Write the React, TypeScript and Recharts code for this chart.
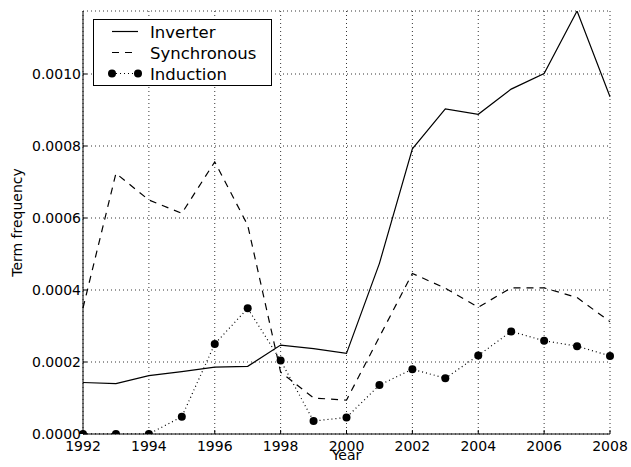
import { LineChart, Line, XAxis, YAxis, CartesianGrid, Legend } from 'recharts';

// term frequency per year
const YEARS = [1992, 1993, 1994, 1995, 1996, 1997, 1998, 1999, 2000, 2001, 2002, 2003, 2004, 2005, 2006, 2007, 2008];
const INVERTER = [0.000143, 0.00014, 0.000162, 0.000173, 0.000186, 0.000188, 0.000247, 0.000237, 0.000224, 0.000474, 0.000792, 0.000903, 0.000888, 0.000958, 0.001001, 0.001175, 0.000937];
const SYNCHRONOUS = [0.00035, 0.000724, 0.00065, 0.000613, 0.000756, 0.00058, 0.000172, 0.0001, 0.000094, 0.00027, 0.000446, 0.000405, 0.000352, 0.000406, 0.000406, 0.000379, 0.000312];
const INDUCTION = [0, 0, 0, 0.000048, 0.00025, 0.000349, 0.000204, 0.000036, 0.000046, 0.000136, 0.00018, 0.000155, 0.000218, 0.000285, 0.000259, 0.000244, 0.000217];

const X_TICKS = [1992, 1994, 1996, 1998, 2000, 2002, 2004, 2006, 2008];
const Y_TICKS = [0, 0.0002, 0.0004, 0.0006, 0.0008, 0.001];
const Y_MAX = 0.001175;

const FONT = '"DejaVu Sans", sans-serif';
const DASH = '7 6';
const DOTTED = '1 3';

const data = YEARS.map((year, i) => ({
  year,
  inverter: INVERTER[i],
  synchronous: SYNCHRONOUS[i],
  induction: INDUCTION[i],
}));

// matplotlib style: ticks point inward
const BottomTick = ({ x, y, payload }: any) => (
  <g>
    <line x1={x} x2={x} y1={y} y2={y - 4} stroke="#000" />
    <text x={x} y={y + 17} textAnchor="middle" fontFamily={FONT} fontSize={14} fill="#000">{payload.value}</text>
  </g>
);
const TopTick = ({ x, y }: any) => <line x1={x} x2={x} y1={y} y2={y + 4} stroke="#000" />;
const LeftTick = ({ x, y, payload }: any) => (
  <g>
    <line x1={x} x2={x + 4} y1={y} y2={y} stroke="#000" />
    <text x={x - 2} y={y + 5} textAnchor="end" fontFamily={FONT} fontSize={14} fill="#000">{payload.value.toFixed(4)}</text>
  </g>
);
const RightTick = ({ x, y }: any) => <line x1={x - 4} x2={x} y1={y} y2={y} stroke="#000" />;

const LEGEND_ROWS = [
  { name: 'Inverter', dash: undefined, dots: false },
  { name: 'Synchronous', dash: DASH, dots: false },
  { name: 'Induction', dash: DOTTED, dots: true },
];

const renderLegend = () => (
  <svg width={179} height={67} style={{ display: 'block' }}>
    <rect x={0.5} y={0.5} width={178} height={66} fill="#fff" stroke="#000" />
    {LEGEND_ROWS.map((r, i) => {
      const cy = 12.5 + i * 21;
      return (
        <g key={r.name}>
          <line x1={19} x2={45} y1={cy} y2={cy} stroke="#000" strokeWidth={1.2} strokeDasharray={r.dash} />
          {r.dots && <circle cx={19} cy={cy} r={4} fill="#000" />}
          {r.dots && <circle cx={45} cy={cy} r={4} fill="#000" />}
          <text x={57} y={cy + 6} fontFamily={FONT} fontSize={16.5} fill="#000">{r.name}</text>
        </g>
      );
    })}
  </svg>
);

export default function App() {
  return (
    <div style={{ position: 'absolute', left: 0, top: 0, background: '#fff' }}>
      <LineChart width={631} height={467} data={data} margin={{ top: 11, right: 21, bottom: 0, left: 0 }}>
        <CartesianGrid stroke="#000" strokeWidth={0.8} strokeDasharray={DOTTED} />
        <XAxis
          dataKey="year"
          type="number"
          domain={[1992, 2008]}
          ticks={X_TICKS}
          height={33}
          tickSize={0}
          tickMargin={0}
          axisLine={{ stroke: '#000' }}
          tick={<BottomTick />}
          label={({ viewBox }: any) => (
            <text x={viewBox.x + viewBox.width / 2} y={460} textAnchor="middle" fontFamily={FONT} fontSize={14} fill="#000">Year</text>
          )}
        />
        <XAxis
          xAxisId="top"
          orientation="top"
          dataKey="year"
          type="number"
          domain={[1992, 2008]}
          ticks={X_TICKS}
          height={0}
          tickSize={0}
          tickMargin={0}
          axisLine={{ stroke: '#000' }}
          tick={<TopTick />}
        />
        <YAxis
          type="number"
          domain={[0, Y_MAX]}
          ticks={Y_TICKS}
          allowDataOverflow
          width={83}
          tickSize={0}
          tickMargin={0}
          axisLine={{ stroke: '#000' }}
          tick={<LeftTick />}
          label={({ viewBox }: any) => {
            const cy = viewBox.y + viewBox.height / 2;
            return (
              <text x={17} y={cy} transform={`rotate(-90, 17, ${cy})`} textAnchor="middle" dominantBaseline="central" fontFamily={FONT} fontSize={14} fill="#000">Term frequency</text>
            );
          }}
        />
        <YAxis
          yAxisId="right"
          orientation="right"
          type="number"
          domain={[0, Y_MAX]}
          ticks={Y_TICKS}
          allowDataOverflow
          width={0}
          tickSize={0}
          tickMargin={0}
          axisLine={{ stroke: '#000' }}
          tick={<RightTick />}
        />
        <Legend
          layout="horizontal"
          verticalAlign="middle"
          align="center"
          content={renderLegend}
          wrapperStyle={{ left: 93, top: 19, width: 179, height: 67 }}
        />
        <Line dataKey="inverter" name="Inverter" stroke="#000" strokeWidth={1.2} dot={false} isAnimationActive={false} />
        <Line dataKey="synchronous" name="Synchronous" stroke="#000" strokeWidth={1.2} strokeDasharray={DASH} dot={false} isAnimationActive={false} />
        <Line
          dataKey="induction"
          name="Induction"
          stroke="#000"
          strokeWidth={1.2}
          strokeDasharray={DOTTED}
          dot={{ r: 4, fill: '#000', stroke: 'none' }}
          isAnimationActive={false}
        />
      </LineChart>
    </div>
  );
}
